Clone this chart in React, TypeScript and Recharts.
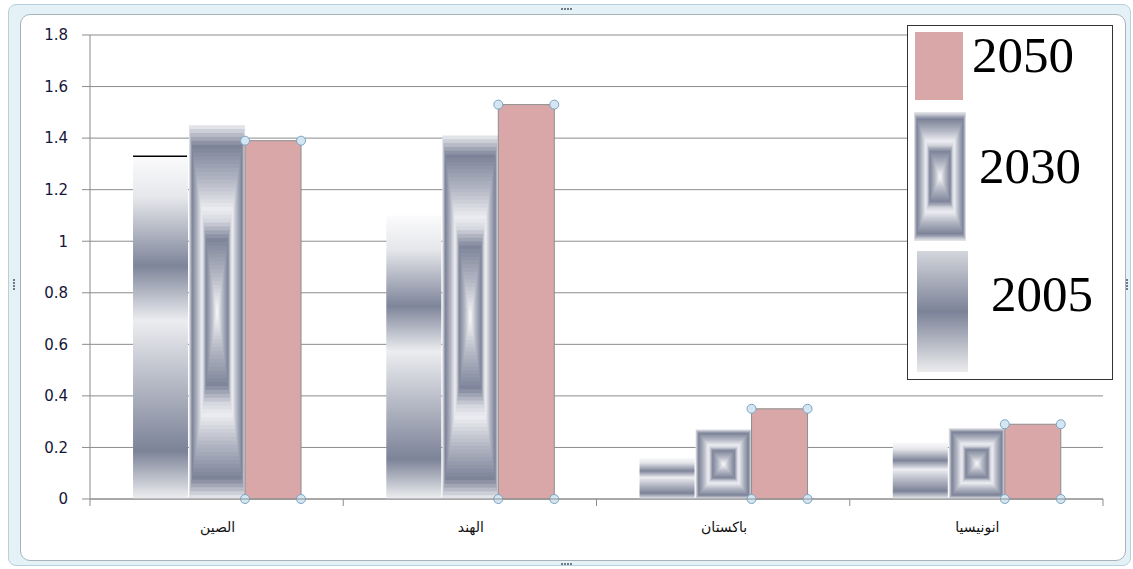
import React from "react";
import {
  BarChart,
  Bar,
  XAxis,
  YAxis,
  CartesianGrid,
  Legend,
} from "recharts";

// data
const categories = ["الصين", "الهند", "باكستان", "انونيسيا"];
const values2005 = [1.33, 1.1, 0.16, 0.22];
const values2030 = [1.45, 1.41, 0.27, 0.275];
const values2050 = [1.39, 1.53, 0.35, 0.29];
const yTicks = [0, 0.2, 0.4, 0.6, 0.8, 1, 1.2, 1.4, 1.6, 1.8];
const seriesNames = ["2050", "2030", "2005"];

const data = categories.map((name, i) => ({
  name,
  y2005: values2005[i],
  y2030: values2030[i],
  y2050: values2050[i],
}));

const W = 1133;
const H = 569;
const PLOT_LEFT = 90;
const PLOT_RIGHT = 1103;
const BAND = (PLOT_RIGHT - PLOT_LEFT) / categories.length;

// rectangular "path" gradient used by the 2030 series
const ringStops: [number, number[]][] = [
  [1, [226, 227, 232]],
  [0.9, [124, 131, 152]],
  [0.72, [178, 182, 195]],
  [0.56, [236, 237, 241]],
  [0.5, [214, 216, 223]],
  [0.4, [126, 133, 154]],
  [0.2, [182, 186, 198]],
  [0, [252, 252, 253]],
];

function ringColor(t: number) {
  for (let i = 0; i < ringStops.length - 1; i++) {
    const [t0, c0] = ringStops[i];
    const [t1, c1] = ringStops[i + 1];
    if (t <= t0 && t >= t1) {
      const k = (t0 - t) / (t0 - t1);
      const c = c0.map((v, j) => Math.round(v + (c1[j] - v) * k));
      return `rgb(${c[0]},${c[1]},${c[2]})`;
    }
  }
  return "rgb(252,252,253)";
}

function RingRect({ x, y, width, height }: any) {
  const steps = 48;
  const rects = [];
  for (let i = 0; i < steps; i++) {
    const t = 1 - i / steps;
    const dx = ((1 - t) * width) / 2;
    const dy = ((1 - t) * height) / 2;
    rects.push(
      <rect
        key={i}
        x={x + dx}
        y={y + dy}
        width={Math.max(width - 2 * dx, 0)}
        height={Math.max(height - 2 * dy, 0)}
        fill={ringColor(t)}
      />
    );
  }
  return <g>{rects}</g>;
}

function Shape2005(props: any) {
  const { x, y, width, height, index } = props;
  return (
    <g>
      <rect x={x + 1} y={y} width={width - 1} height={height} fill="url(#grad2005)" />
      {index === 0 && (
        <line x1={x + 1} x2={x + width - 1} y1={y} y2={y} stroke="#000" strokeWidth={1.5} />
      )}
    </g>
  );
}

function Shape2030(props: any) {
  const { x, y, width, height } = props;
  return <RingRect x={x + 1} y={y} width={width} height={height} />;
}

function Handle({ cx, cy }: { cx: number; cy: number }) {
  return <circle cx={cx} cy={cy} r={4.5} fill="#d3e6f1" stroke="#7ba4c4" strokeWidth={1} />;
}

function Shape2050(props: any) {
  const { x, y, width, height } = props;
  const left = x + 1;
  return (
    <g>
      <rect x={left} y={y} width={width} height={height} fill="#d9a7a8" stroke="#8e8e8e" strokeWidth={1} />
      <Handle cx={left} cy={y} />
      <Handle cx={left + width} cy={y} />
      <Handle cx={left} cy={y + height} />
      <Handle cx={left + width} cy={y + height} />
    </g>
  );
}

function XTick(props: any) {
  const { x, y, payload, index } = props;
  const axisY = y - 8;
  const left = x - BAND / 2;
  return (
    <g>
      <line x1={left} x2={left} y1={axisY} y2={axisY + 7} stroke="#8c8c8c" />
      {index === categories.length - 1 && (
        <line x1={x + BAND / 2} x2={x + BAND / 2} y1={axisY} y2={axisY + 7} stroke="#8c8c8c" />
      )}
      <text
        x={x + 1}
        y={axisY + 33}
        textAnchor="middle"
        fontFamily="DejaVu Sans"
        fontSize={14}
        fill="#111"
      >
        {payload.value}
      </text>
    </g>
  );
}

function LegendBox() {
  const serif = "'Liberation Serif', 'Times New Roman', serif";
  return (
    <div
      style={{
        position: "relative",
        width: 206,
        height: 355,
        border: "1px solid #333",
        background: "#fff",
        boxSizing: "border-box",
      }}
    >
      <svg width={206} height={355} style={{ position: "absolute", left: 0, top: 0 }}>
        <defs>
          <linearGradient id="gradLeg2005" x1="0" y1="0" x2="0" y2="1">
            <stop offset="0" stopColor="#d4d6dc" />
            <stop offset="0.5" stopColor="#7c8398" />
            <stop offset="1" stopColor="#ececee" />
          </linearGradient>
        </defs>
        <rect x={7} y={6} width={48} height={68} fill="#d9a7a8" />
        <RingRect x={6} y={86} width={52} height={129} />
        <rect x={9} y={225} width={51} height={121} fill="url(#gradLeg2005)" />
        <text x={64} y={46} fontFamily={serif} fontSize={51} fill="#000">
          {seriesNames[0]}
        </text>
        <text x={71} y={157} fontFamily={serif} fontSize={51} fill="#000">
          {seriesNames[1]}
        </text>
        <text x={83} y={285} fontFamily={serif} fontSize={51} fill="#000">
          {seriesNames[2]}
        </text>
      </svg>
    </div>
  );
}

function Grip({ left, top, vertical }: { left: number; top: number; vertical?: boolean }) {
  const dots = [0, 1, 2, 3];
  return (
    <div style={{ position: "absolute", left, top }}>
      {dots.map((d) => (
        <div
          key={d}
          style={{
            position: "absolute",
            left: vertical ? 0 : d * 3,
            top: vertical ? d * 3 : 0,
            width: 2,
            height: 2,
            background: "#6f7a86",
          }}
        />
      ))}
    </div>
  );
}

export default function App() {
  return (
    <div style={{ position: "absolute", left: 0, top: 0, width: W, height: H, background: "#fff" }}>
      <div
        style={{
          position: "absolute",
          left: 8,
          top: 4,
          width: 1123,
          height: 562,
          background: "#e4f1f6",
          border: "1px solid #b7d0dc",
          borderRadius: 8,
          boxSizing: "border-box",
        }}
      />
      <div
        style={{
          position: "absolute",
          left: 20,
          top: 14,
          width: 1106,
          height: 547,
          background: "#fff",
          border: "1px solid #a9b4ba",
          borderRadius: 10,
          boxSizing: "border-box",
        }}
      />
      <Grip left={561} top={8} />
      <Grip left={561} top={563} />
      <Grip left={13} top={279} vertical />
      <Grip left={1126} top={279} vertical />
      <div style={{ position: "absolute", left: 0, top: 0 }}>
        <BarChart
          width={W}
          height={H}
          data={data}
          margin={{ top: 35, right: W - PLOT_RIGHT, bottom: 40, left: 30 }}
          barGap={0}
          barCategoryGap="16.6%"
        >
          <defs>
            <linearGradient id="grad2005" x1="0" y1="0" x2="0" y2="1">
              <stop offset="0" stopColor="#fbfbfc" />
              <stop offset="0.12" stopColor="#e6e7eb" />
              <stop offset="0.32" stopColor="#7e859a" />
              <stop offset="0.48" stopColor="#ecedf0" />
              <stop offset="0.62" stopColor="#c2c5cf" />
              <stop offset="0.86" stopColor="#7c8398" />
              <stop offset="1" stopColor="#eeeff1" />
            </linearGradient>
          </defs>
          <CartesianGrid horizontal vertical={false} stroke="#8c8c8c" strokeWidth={1} />
          <XAxis
            dataKey="name"
            axisLine={{ stroke: "#8c8c8c" }}
            tickLine={false}
            tick={<XTick />}
            height={30}
            interval={0}
          />
          <YAxis
            domain={[0, 1.8]}
            ticks={yTicks}
            width={60}
            axisLine={{ stroke: "#8c8c8c" }}
            tickLine={{ stroke: "#8c8c8c" }}
            tickSize={8}
            tickMargin={14}
            tick={{ fontFamily: "DejaVu Sans", fontSize: 15, fill: "#16163a" }}
          />
          <Legend
            layout="vertical"
            align="center"
            verticalAlign="middle"
            wrapperStyle={{ left: 907, top: 25, width: 206, height: 355 }}
            content={() => <LegendBox />}
          />
          <Bar dataKey="y2005" name="2005" shape={<Shape2005 />} isAnimationActive={false} />
          <Bar dataKey="y2030" name="2030" shape={<Shape2030 />} isAnimationActive={false} />
          <Bar dataKey="y2050" name="2050" shape={<Shape2050 />} isAnimationActive={false} />
        </BarChart>
      </div>
    </div>
  );
}
